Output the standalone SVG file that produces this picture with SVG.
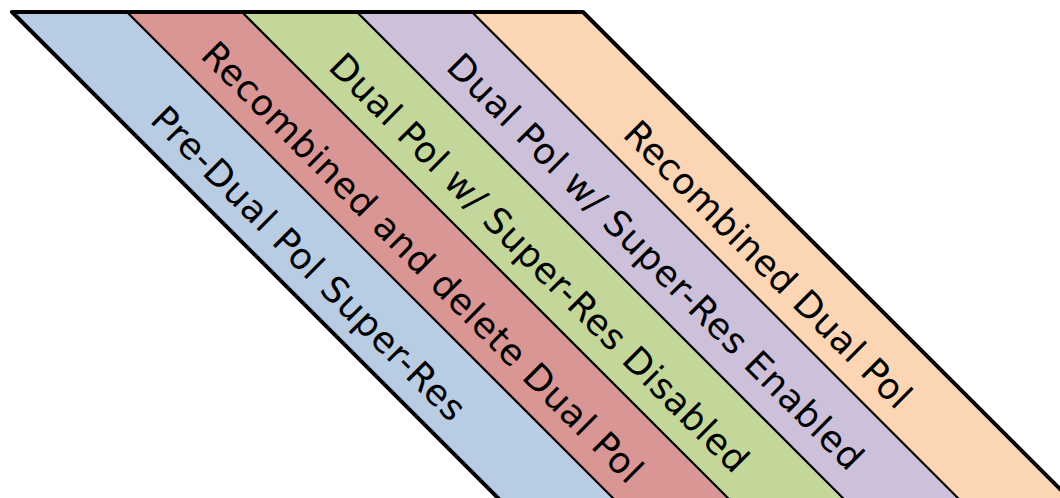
<svg xmlns="http://www.w3.org/2000/svg" width="1060" height="498" viewBox="0 0 1060 498">
  <style>
    .band { stroke: #000; stroke-width: 2; stroke-linejoin: miter; }
    .lbl { font-family: "DejaVu Sans", "Liberation Sans", sans-serif; font-size: 36px; fill: #000; }
    .outline { fill: none; stroke: #000; stroke-width: 4; stroke-linejoin: round; stroke-linecap: round; }
  </style>
  <rect width="1060" height="498" fill="#fff"/>
  <g id="band-pre-dual-pol">
    <polygon class="band" fill="#b8cce4" points="12,12 127,12 635,520 520,520"/>
    <text class="lbl" transform="rotate(45)" x="191" y="-19.5" textLength="427">Pre-Dual Pol Super-Res</text>
  </g>
  <g id="band-recombined-delete">
    <polygon class="band" fill="#da9694" points="127,12 242,12 750,520 635,520"/>
    <text class="lbl" transform="rotate(45)" x="181" y="-100.8" textLength="606">Recombined and delete Dual Pol</text>
  </g>
  <g id="band-superres-disabled">
    <polygon class="band" fill="#c4d79b" points="242,12 357,12 865,520 750,520"/>
    <text class="lbl" transform="rotate(45)" x="279.5" y="-182.9" textLength="575">Dual Pol w/ Super-Res Disabled</text>
  </g>
  <g id="band-superres-enabled">
    <polygon class="band" fill="#ccc0da" points="357,12 472,12 980,520 865,520"/>
    <text class="lbl" transform="rotate(45)" x="363" y="-266" textLength="571">Dual Pol w/ Super-Res Enabled</text>
  </g>
  <g id="band-recombined-dual-pol">
    <polygon class="band" fill="#fcd5b4" points="472,12 583,12 1091,520 980,520"/>
    <text class="lbl" transform="rotate(45)" x="535.5" y="-343.4" textLength="389">Recombined Dual Pol</text>
  </g>
  <g id="connectors">
    <path class="outline" d="M520,520 L12,12 L583,12 L1091,520"/>
  </g>
</svg>
